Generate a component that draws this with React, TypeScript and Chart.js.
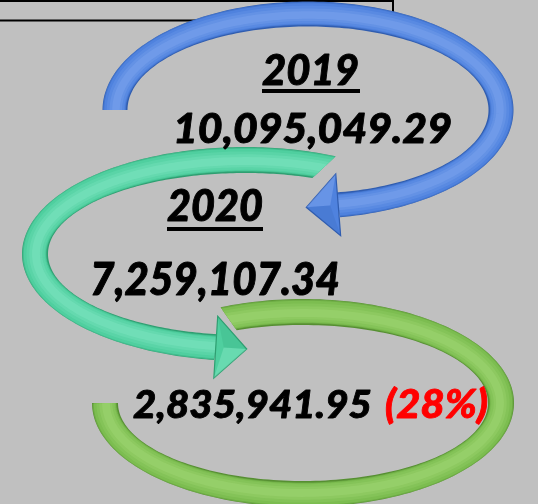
import { useEffect, useRef } from 'react';
import { Chart, registerables } from 'chart.js';

Chart.register(...registerables);

// ---- data ----
const years = ['2019', '2020'];
const amounts = [10095049.29, 7259107.34];
const differenceValues = [2835941.95];
const percentLabels = ['(28%)'];

const fmt = (v: number) =>
  v.toLocaleString('en-US', { minimumFractionDigits: 2, maximumFractionDigits: 2 });

type Ring = {
  cx: number; cy: number; rx: number; ry: number; w: number;
  a0o: number; a0i: number; a1: number;
  body: string; edge: string; light: string;
  head?: { len: number; width: number };
};

const D = Math.PI / 180;

const rings: Ring[] = [
  { // green (bottom)
    cx: 303, cy: 403, rx: 198, ry: 91, w: 26,
    a0o: 247 * D, a0i: 249 * D, a1: 540 * D,
    body: '#7cbd50', edge: '#568f32', light: '#acdf80',
  },
  { // teal (middle)
    cx: 245, cy: 254, rx: 210, ry: 94, w: 26,
    a0o: 294 * D, a0i: 290 * D, a1: 98 * D,
    body: '#4fcf9f', edge: '#2e9f71', light: '#8eeccb',
    head: { len: 31, width: 62 },
  },
  { // blue (top)
    cx: 308, cy: 110, rx: 193, ry: 96, w: 25,
    a0o: 180 * D, a0i: 180 * D, a1: 441 * D,
    body: '#4f82de', edge: '#305db0', light: '#8cb0f3',
    head: { len: 32, width: 62 },
  },
];

function ellPt(r: Ring, t: number, off: number, sx: (v: number) => number, sy: (v: number) => number) {
  return [sx(r.cx + (r.rx + off) * Math.cos(t)), sy(r.cy + (r.ry + off) * Math.sin(t))];
}

function drawRing(ctx: CanvasRenderingContext2D, r: Ring, sx: (v: number) => number, sy: (v: number) => number) {
  const N = 180;
  const h = r.w / 2;
  const path = new Path2D();
  for (let i = 0; i <= N; i++) {
    const t = r.a0o + (r.a1 - r.a0o) * (i / N);
    const [x, y] = ellPt(r, t, h, sx, sy);
    if (i === 0) path.moveTo(x, y); else path.lineTo(x, y);
  }
  for (let i = 0; i <= N; i++) {
    const t = r.a1 + (r.a0i - r.a1) * (i / N);
    const [x, y] = ellPt(r, t, -h, sx, sy);
    path.lineTo(x, y);
  }
  path.closePath();

  ctx.save();
  ctx.fillStyle = r.edge;
  ctx.fill(path);
  ctx.clip(path);
  const stroke = (off: number, width: number, color: string, alpha: number) => {
    ctx.beginPath();
    const a0 = r.a0o - 0.2 * Math.sign(r.a1 - r.a0o);
    for (let i = 0; i <= N; i++) {
      const t = a0 + (r.a1 - a0) * (i / N);
      const [x, y] = ellPt(r, t, off, sx, sy);
      if (i === 0) ctx.moveTo(x, y); else ctx.lineTo(x, y);
    }
    ctx.globalAlpha = alpha;
    ctx.strokeStyle = color;
    ctx.lineWidth = width;
    ctx.lineCap = 'butt';
    ctx.stroke();
    ctx.globalAlpha = 1;
  };
  stroke(0.5, r.w - 2, r.body, 0.6);
  stroke(0.3, r.w - 4, r.body, 1);
  stroke(-0.5, r.w * 0.7, r.light, 0.18);
  stroke(-0.8, r.w * 0.5, r.light, 0.22);
  stroke(-1, r.w * 0.3, r.light, 0.28);
  ctx.restore();

  if (r.head) {
    const t = r.a1;
    const dirSign = Math.sign(r.a1 - r.a0o);
    const [ex, ey] = ellPt(r, t, 0, sx, sy);
    let tx = -r.rx * Math.sin(t) * dirSign;
    let ty = r.ry * Math.cos(t) * dirSign;
    const l = Math.hypot(tx, ty);
    tx /= l; ty /= l;
    const nx = -ty, ny = tx;
    const hw = r.head.width / 2;
    const tip = [ex + tx * r.head.len, ey + ty * r.head.len];
    const b1 = [ex + nx * hw, ey + ny * hw];
    const b2 = [ex - nx * hw, ey - ny * hw];
    ctx.beginPath();
    ctx.moveTo(b1[0], b1[1]);
    ctx.lineTo(tip[0], tip[1]);
    ctx.lineTo(b2[0], b2[1]);
    ctx.closePath();
    ctx.fillStyle = r.body;
    ctx.fill();
    ctx.strokeStyle = r.edge;
    ctx.lineWidth = 1.2;
    ctx.stroke();
    const mid = [ex + tx * 8, ey + ty * 8];
    ctx.beginPath();
    ctx.moveTo(b1[0], b1[1]);
    ctx.lineTo(tip[0], tip[1]);
    ctx.lineTo(mid[0], mid[1]);
    ctx.closePath();
    ctx.globalAlpha = 0.4;
    ctx.fillStyle = r.light;
    ctx.fill();
    ctx.beginPath();
    ctx.moveTo(b2[0], b2[1]);
    ctx.lineTo(tip[0], tip[1]);
    ctx.lineTo(mid[0], mid[1]);
    ctx.closePath();
    ctx.globalAlpha = 0.2;
    ctx.fillStyle = r.edge;
    ctx.fill();
    ctx.globalAlpha = 1;
  }
}

const FONT = '"Lato", "Open Sans", sans-serif';
const fontAt = (s: number) => `italic 900 ${s}px ${FONT}`;

const infographicPlugin = {
  id: 'infographic',
  beforeDraw(chart: any) {
    const { ctx } = chart;
    const xs = chart.scales.x;
    const ys = chart.scales.y;
    const sx = (v: number) => xs.getPixelForValue(v);
    const sy = (v: number) => ys.getPixelForValue(v);
    ctx.save();
    ctx.fillStyle = '#c0c0c0';
    ctx.fillRect(0, 0, chart.width, chart.height);

    // title box frame lines
    ctx.fillStyle = '#000';
    ctx.fillRect(sx(0), sy(0), sx(394) - sx(0), 2);
    ctx.fillRect(sx(0), sy(19.5), sx(394) - sx(0), 2);
    ctx.fillRect(sx(392), sy(0), 2, sy(20) - sy(0));

    rings.forEach((r) => drawRing(ctx, r, sx, sy));

    // text fitted to width and digit height
    const drawText = (
      text: string, x: number, base: number, width: number, height: number, color: string,
    ) => {
      ctx.font = fontAt(100);
      const m = ctx.measureText(text);
      const size = (100 * width) / m.width;
      ctx.font = fontAt(size);
      const asc = ctx.measureText('0').actualBoundingBoxAscent;
      const k = height / asc;
      ctx.save();
      ctx.font = fontAt(size);
      ctx.fillStyle = color;
      ctx.strokeStyle = color;
      ctx.lineWidth = 0.9;
      ctx.lineJoin = 'round';
      ctx.textAlign = 'left';
      ctx.textBaseline = 'alphabetic';
      ctx.translate(sx(x), sy(base));
      ctx.scale(1, k);
      ctx.fillText(text, 0, 0);
      ctx.strokeText(text, 0, 0);
      ctx.restore();
    };

    // 2019
    drawText(years[0], 262, 85, 97, 31, '#000');
    ctx.fillStyle = '#000';
    ctx.fillRect(sx(262), sy(89), sx(360) - sx(262), 4);
    drawText(fmt(amounts[0]), 173, 143, 279, 31, '#000');

    // 2020
    drawText(years[1], 167, 221, 96, 32, '#000');
    ctx.fillStyle = '#000';
    ctx.fillRect(sx(167), sy(227), sx(263) - sx(167), 4);
    drawText(fmt(amounts[1]), 90, 295, 250, 32, '#000');

    // difference
    drawText(fmt(differenceValues[0]), 133, 418, 239, 28, '#000');
    drawText(percentLabels[0], 385, 418, 103, 28, '#ff0000');

    ctx.restore();
  },
};

export default function App() {
  const ref = useRef<HTMLCanvasElement | null>(null);
  useEffect(() => {
    document.body.style.margin = '0';
    const canvas = ref.current;
    if (!canvas) return;
    const chart = new Chart(canvas, {
      type: 'scatter',
      data: { datasets: [{ data: [], showLine: false }] },
      options: {
        animation: false,
        responsive: false,
        devicePixelRatio: 1,
        layout: { padding: 0 },
        plugins: { legend: { display: false }, tooltip: { enabled: false } },
        scales: {
          x: { type: 'linear', min: 0, max: 538, display: false },
          y: { type: 'linear', min: 0, max: 504, reverse: true, display: false },
        },
      },
      plugins: [infographicPlugin],
    });
    return () => chart.destroy();
  }, []);
  return (
    <div style={{ width: 538, height: 504 }}>
      <canvas ref={ref} width={538} height={504} style={{ display: 'block' }} />
    </div>
  );
}
